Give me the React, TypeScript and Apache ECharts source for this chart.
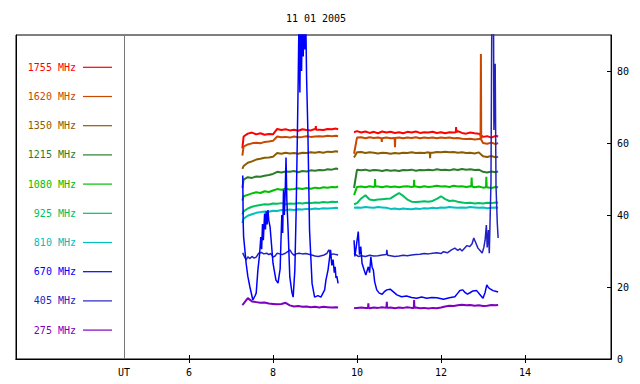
import React, { useEffect, useRef } from 'react';
import * as echarts from 'echarts';

const TITLE = '11 01 2005';
const X_TICKS = [6, 8, 10, 12, 14];
const UT_X = 4.45;
const Y_TICKS = [0, 20, 40, 60, 80];

const FREQ_LABELS = ['1755 MHz', '1620 MHz', '1350 MHz', '1215 MHz', '1080 MHz', '925 MHz', '810 MHz', '670 MHz', '405 MHz', '275 MHz'];
const COLORS = ['#ff0000', '#c84800', '#8c5c00', '#2a7d2a', '#00c000', '#00c060', '#00c0c0', '#0000ff', '#2222c4', '#8000c0'];

// time grid (UT hours) for the smoother channels
const T_A = [7.27, 7.3, 7.4, 7.5, 7.6, 7.7, 7.8, 7.9, 8.0, 8.1, 8.2, 8.3, 8.4, 8.5, 8.6, 8.7, 8.8, 8.9, 9.0, 9.1, 9.2, 9.3, 9.4, 9.5, 9.55];
const T_GAP = 9.75;
const T_B = [9.93, 10.0, 10.1, 10.2, 10.3, 10.4, 10.5, 10.6, 10.7, 10.8, 10.9, 11.0, 11.1, 11.2, 11.3, 11.4, 11.5, 11.6, 11.7, 11.8, 11.9, 12.0, 12.1, 12.2, 12.3, 12.4, 12.5, 12.6, 12.7, 12.8, 12.9, 13.0, 13.1, 13.2, 13.3, 13.36];

const F1755_A = [58.5, 61.8, 62.6, 62.9, 62.4, 62.7, 62.3, 62.5, 62.4, 63.9, 63.6, 63.8, 63.5, 63.7, 63.4, 63.8, 63.6, 63.5, 63.9, 63.7, 63.6, 63.9, 63.8, 64.0, 63.8];
const F1755_B = [63.0, 63.3, 62.9, 63.2, 62.8, 63.1, 62.7, 63.2, 62.9, 63.1, 62.8, 63.0, 62.7, 63.1, 62.9, 63.2, 62.8, 63.0, 62.9, 63.1, 62.8, 63.0, 62.7, 63.0, 62.9, 63.3, 62.8, 62.6, 62.9, 62.7, 62.6, 61.7, 61.9, 61.5, 62.0, 61.8];
const F1755_SPK = [[9.012, 63.7], [9.02, 64.7], [9.028, 63.7], [12.352, 63.0], [12.36, 64.4], [12.368, 63.0]];

const F1620_A = [56.5, 59.0, 59.6, 59.9, 60.1, 59.9, 60.3, 60.4, 60.6, 61.8, 61.6, 61.7, 61.5, 61.8, 61.6, 61.7, 61.9, 61.7, 61.8, 61.9, 61.8, 62.0, 61.9, 62.0, 61.9];
const F1620_B = [57.0, 61.5, 61.6, 61.3, 61.6, 61.4, 61.5, 61.2, 61.5, 61.3, 61.4, 61.5, 61.3, 61.5, 61.4, 61.6, 61.3, 61.5, 61.4, 61.5, 61.3, 61.5, 61.4, 61.5, 61.3, 61.4, 61.2, 61.1, 61.2, 61.0, 61.1, 60.0, 59.8, 60.1, 59.7, 60.0];
const F1620_SPK = [[10.582, 61.3], [10.59, 60.3], [10.598, 61.3], [10.897, 61.4], [10.905, 58.8], [10.913, 61.4], [12.942, 61.1], [12.95, 84.7], [12.958, 60.9]];

const F1350_A = [52.8, 53.6, 54.5, 54.9, 55.4, 55.6, 55.9, 56.0, 56.2, 57.2, 57.0, 57.3, 57.1, 57.2, 57.0, 57.3, 57.2, 57.4, 57.3, 57.5, 57.3, 57.6, 57.5, 57.7, 57.6];
const F1350_B = [56.0, 57.4, 57.5, 57.2, 57.4, 57.3, 57.1, 57.3, 57.2, 57.0, 57.2, 57.1, 57.3, 57.2, 57.4, 57.2, 57.3, 57.2, 57.4, 57.3, 57.5, 57.4, 57.6, 57.4, 57.5, 57.3, 57.4, 57.2, 57.3, 57.1, 57.4, 56.3, 56.1, 56.4, 56.0, 56.2];
const F1350_SPK = [[11.732, 57.3], [11.74, 55.8], [11.748, 57.3]];

const F1215_A = [47.5, 49.8, 50.5, 50.3, 50.7, 50.6, 50.9, 51.1, 51.4, 52.0, 51.8, 52.1, 52.0, 52.2, 51.9, 52.2, 52.1, 52.4, 52.3, 52.5, 52.4, 52.7, 52.6, 52.9, 52.8];
const F1215_B = [47.5, 52.6, 52.4, 52.6, 52.3, 52.5, 52.4, 52.2, 52.5, 52.3, 52.4, 52.2, 52.5, 52.4, 52.6, 52.3, 52.5, 52.4, 52.6, 52.4, 52.7, 52.5, 52.6, 52.4, 52.7, 52.5, 52.8, 52.6, 52.7, 52.5, 52.6, 52.0, 51.8, 52.1, 51.9, 52.1];

const F1080_A = [44.0, 45.2, 45.6, 46.0, 46.3, 46.1, 46.6, 46.4, 46.8, 47.2, 47.0, 47.3, 47.1, 47.2, 47.4, 47.2, 47.5, 47.3, 47.6, 47.4, 47.7, 47.6, 47.8, 47.7, 47.9];
const F1080_B = [45.5, 47.8, 47.9, 47.7, 48.0, 47.8, 47.9, 47.7, 48.0, 47.8, 47.9, 47.7, 47.9, 48.0, 47.8, 47.9, 47.7, 48.0, 47.8, 47.9, 48.1, 47.9, 48.0, 47.8, 48.1, 47.9, 48.0, 47.8, 48.0, 47.7, 47.9, 47.6, 47.8, 47.5, 47.8, 47.7];
const F1080_SPK = [[10.422, 47.9], [10.43, 50.0], [10.438, 47.9], [11.352, 47.9], [11.36, 49.8], [11.368, 47.9], [12.722, 47.9], [12.73, 50.4], [12.738, 47.9], [13.072, 47.7], [13.08, 50.6], [13.088, 47.7]];

const F925_A = [40.2, 41.0, 41.8, 42.3, 42.6, 42.8, 43.0, 42.9, 43.2, 43.1, 43.3, 43.0, 43.2, 43.1, 43.3, 43.2, 43.4, 43.3, 43.5, 43.4, 43.6, 43.5, 43.7, 43.6, 43.7];
const F925_B = [43.0, 43.3, 44.6, 45.5, 44.3, 44.1, 44.3, 44.4, 44.5, 44.6, 45.4, 46.1, 45.3, 44.3, 43.7, 43.6, 43.7, 43.8, 43.7, 43.9, 44.5, 45.2, 44.4, 43.9, 44.0, 43.7, 43.5, 43.3, 43.4, 43.2, 43.3, 43.2, 43.4, 43.3, 43.5, 43.4];

const F810_A = [37.8, 39.0, 39.8, 40.2, 40.6, 40.8, 41.0, 40.9, 41.2, 41.1, 41.4, 41.3, 41.5, 41.4, 41.6, 41.5, 41.7, 41.6, 41.8, 41.7, 41.9, 41.8, 41.9, 42.0, 41.9];
const F810_B = [42.0, 42.1, 42.0, 42.2, 42.1, 42.0, 42.2, 42.1, 42.0, 41.7, 41.8, 41.6, 41.8, 41.7, 41.6, 41.8, 41.7, 41.9, 41.8, 42.0, 41.9, 42.1, 42.0, 42.2, 42.1, 42.0, 42.1, 42.0, 42.2, 42.1, 42.0, 42.1, 41.9, 42.0, 42.1, 42.0];

const F275_A = [15.0, 15.4, 16.9, 16.0, 15.8, 15.6, 15.7, 15.4, 15.3, 15.2, 15.3, 15.6, 14.9, 14.6, 14.7, 14.5, 14.6, 14.4, 14.5, 14.3, 14.5, 14.4, 14.3, 14.4, 14.3];
const F275_B = [14.1, 14.2, 14.3, 14.2, 14.1, 14.3, 14.2, 14.4, 14.2, 14.3, 14.1, 14.3, 14.2, 14.4, 14.2, 14.3, 14.1, 14.2, 14.0, 14.2, 14.1, 14.3, 14.6, 14.8, 14.7, 14.9, 15.1, 14.9, 15.0, 14.8, 14.9, 14.7, 14.8, 15.0, 14.9, 15.0];
const F275_SPK = [[10.262, 14.2], [10.27, 15.5], [10.278, 14.2], [10.702, 14.2], [10.71, 15.9], [10.718, 14.2], [11.352, 14.2], [11.36, 16.4], [11.368, 14.2]];

// bursty channels: [UT hour, flux]
const F670_A = [[7.28, 51.0], [7.29, 38.0], [7.30, 34.0], [7.36, 26.6], [7.40, 23.0], [7.45, 20.0], [7.52, 16.4], [7.57, 17.5], [7.60, 18.3], [7.64, 24.7], [7.68, 29.0], [7.71, 33.9], [7.73, 30.5], [7.75, 37.5], [7.77, 33.0], [7.80, 40.4], [7.82, 36.0], [7.84, 41.0], [7.86, 37.4], [7.88, 41.4], [7.90, 38.5], [7.93, 36.7], [7.95, 33.9], [8.00, 26.6], [8.07, 21.9], [8.12, 21.1], [8.15, 23.5], [8.17, 25.0], [8.19, 33.0], [8.21, 40.0], [8.23, 35.0], [8.25, 47.0], [8.27, 40.0], [8.29, 46.0], [8.31, 56.0], [8.33, 44.0], [8.36, 35.8], [8.40, 22.8], [8.45, 18.5], [8.48, 17.2], [8.52, 24.7], [8.55, 40.5], [8.58, 62.0], [8.60, 77.5], [8.62, 96], [8.64, 74], [8.66, 98], [8.68, 80], [8.70, 99], [8.72, 84], [8.74, 99], [8.76, 86], [8.78, 95], [8.80, 78.0], [8.83, 63.6], [8.87, 35.8], [8.93, 21.0], [8.99, 17.2], [9.07, 17.6], [9.14, 17.2], [9.23, 19.2], [9.26, 21.9], [9.31, 24.7], [9.34, 27.5], [9.37, 30.3], [9.40, 26.0], [9.43, 27.6], [9.46, 24.0], [9.48, 25.6], [9.50, 22.5], [9.52, 23.0], [9.55, 21.0]];
const F670_B = [[9.93, 33.0], [9.95, 28.5], [9.98, 31.0], [10.03, 35.4], [10.06, 29.0], [10.09, 31.2], [10.12, 26.6], [10.17, 24.7], [10.21, 23.3], [10.24, 24.5], [10.27, 25.6], [10.30, 24.0], [10.33, 28.4], [10.36, 25.5], [10.39, 24.7], [10.42, 21.5], [10.47, 19.2], [10.53, 18.3], [10.60, 18.0], [10.66, 18.8], [10.71, 19.2], [10.79, 19.4], [10.86, 18.7], [10.95, 17.8], [11.06, 17.3], [11.18, 17.5], [11.30, 17.1], [11.42, 16.9], [11.54, 17.2], [11.66, 16.9], [11.78, 17.1], [11.90, 17.0], [12.06, 16.6], [12.20, 17.0], [12.33, 17.3], [12.40, 18.3], [12.45, 19.0], [12.52, 19.2], [12.57, 18.5], [12.63, 18.0], [12.69, 18.4], [12.76, 18.9], [12.85, 19.0], [12.92, 18.0], [13.00, 16.9], [13.05, 18.5], [13.09, 20.6], [13.13, 19.8], [13.17, 19.5], [13.24, 19.0], [13.30, 18.8], [13.36, 18.6]];

const F405_A = [[7.28, 29.5], [7.30, 28.9], [7.36, 27.5], [7.40, 28.4], [7.45, 27.9], [7.50, 28.5], [7.55, 28.0], [7.60, 28.3], [7.66, 29.4], [7.72, 29.6], [7.78, 29.2], [7.85, 29.4], [7.90, 29.0], [7.95, 29.3], [8.00, 28.3], [8.05, 28.6], [8.10, 29.4], [8.16, 29.2], [8.22, 29.0], [8.28, 29.3], [8.35, 29.8], [8.40, 30.3], [8.45, 29.4], [8.50, 28.8], [8.55, 29.2], [8.62, 29.4], [8.70, 29.2], [8.78, 29.3], [8.85, 29.1], [8.92, 28.9], [9.00, 28.6], [9.08, 28.5], [9.15, 28.7], [9.22, 28.9], [9.28, 29.3], [9.33, 30.3], [9.38, 29.0], [9.44, 29.2], [9.50, 29.0], [9.55, 28.9]];
const F405_B = [[9.93, 29.4], [9.98, 28.9], [10.03, 28.5], [10.10, 28.7], [10.20, 28.5], [10.30, 28.8], [10.40, 28.6], [10.50, 28.7], [10.60, 28.9], [10.70, 29.0], [10.71, 30.3], [10.73, 28.8], [10.80, 28.7], [10.90, 28.5], [11.00, 28.6], [11.10, 28.8], [11.20, 28.7], [11.30, 28.9], [11.40, 29.0], [11.50, 29.1], [11.60, 29.3], [11.70, 29.2], [11.80, 29.4], [11.90, 29.5], [12.00, 29.3], [12.06, 29.8], [12.15, 29.5], [12.25, 30.3], [12.33, 30.8], [12.40, 30.2], [12.45, 30.6], [12.50, 30.0], [12.57, 30.9], [12.62, 31.5], [12.68, 31.2], [12.74, 32.0], [12.78, 33.6], [12.82, 32.5], [12.88, 30.8], [12.94, 30.0], [12.98, 29.4], [13.02, 31.0], [13.05, 33.0], [13.08, 37.2], [13.10, 31.0], [13.13, 35.8], [13.15, 29.4], [13.19, 49.0], [13.21, 95], [13.23, 92], [13.25, 96], [13.26, 63.6], [13.29, 82.0], [13.31, 48.0], [13.34, 37.8], [13.36, 33.6]];

const FONT = 'DejaVu Sans Mono';

function gridSeries(a: number[], b: number[], spikes: number[][] = []) {
  const pts: any[] = [
    ...T_A.map((t, i) => [t, a[i]]),
    [T_GAP, '-'],
    ...T_B.map((t, i) => [t, b[i]]),
    ...spikes,
  ];
  return pts.sort((p, q) => p[0] - q[0]);
}

function pairSeries(a: number[][], b: number[][]) {
  return [...a, [T_GAP, '-'], ...b];
}

export default function App() {
  const ref = useRef<HTMLDivElement>(null);

  useEffect(() => {
    if (!ref.current) return;
    const chart = echarts.init(ref.current, null, { renderer: 'svg' });

    const datasets: any[] = [
      gridSeries(F1755_A, F1755_B, F1755_SPK),
      gridSeries(F1620_A, F1620_B, F1620_SPK),
      gridSeries(F1350_A, F1350_B, F1350_SPK),
      gridSeries(F1215_A, F1215_B),
      gridSeries(F1080_A, F1080_B, F1080_SPK),
      gridSeries(F925_A, F925_B),
      gridSeries(F810_A, F810_B),
      pairSeries(F670_A, F670_B),
      pairSeries(F405_A, F405_B),
      gridSeries(F275_A, F275_B, F275_SPK),
    ];

    const series: any[] = datasets.map((d, i) => ({
      type: 'line',
      name: FREQ_LABELS[i],
      data: d,
      xAxisIndex: 0,
      yAxisIndex: 0,
      symbol: 'none',
      showSymbol: false,
      connectNulls: false,
      clip: true,
      lineStyle: { color: COLORS[i], width: i === 7 || i === 8 ? 1.5 : 2 },
      itemStyle: { color: COLORS[i] },
      z: i === 7 ? 5 : 3,
      ...(i === 0
        ? {
            markLine: {
              silent: true,
              symbol: ['none', 'none'],
              label: { show: false },
              lineStyle: { color: '#777777', type: 'solid', width: 1 },
              data: [{ xAxis: UT_X }],
            },
          }
        : {}),
    }));

    const X_MIN = 6 - 173 / 42;
    const X_MAX = X_MIN + 595 / 42;

    const legendEls: any[] = [];
    FREQ_LABELS.forEach((lab, i) => {
      const y = 67.3 + 29.2 * i;
      legendEls.push({
        type: 'text',
        x: 76,
        y,
        style: { text: lab, fill: COLORS[i], font: `10px "${FONT}"`, textAlign: 'right', textVerticalAlign: 'middle' },
      });
      legendEls.push({
        type: 'line',
        shape: { x1: 83, y1: y, x2: 112, y2: y },
        style: { stroke: COLORS[i], lineWidth: 1.2 },
      });
    });

    chart.setOption({
      animation: false,
      backgroundColor: '#ffffff',
      grid: { left: 16, right: 29, top: 35, bottom: 25, show: true, borderColor: '#000', borderWidth: 1, backgroundColor: 'transparent' },
      xAxis: [
        {
          type: 'value',
          position: 'bottom',
          min: X_MIN,
          max: X_MAX,
          axisLine: { show: true, lineStyle: { color: '#000', width: 1 } },
          axisTick: { show: true, inside: true, length: 4, customValues: X_TICKS, lineStyle: { color: '#000' } },
          axisLabel: {
            show: true,
            customValues: [UT_X, ...X_TICKS],
            formatter: (v: number) => (v < 5 ? 'UT' : String(Math.round(v))),
            color: '#000',
            fontFamily: FONT,
            fontSize: 10,
            margin: 8,
          },
          splitLine: { show: false },
        },
        {
          type: 'value',
          position: 'top',
          min: X_MIN,
          max: X_MAX,
          axisLine: { show: true, lineStyle: { color: '#000', width: 1 } },
          axisTick: { show: true, inside: true, length: 4, customValues: X_TICKS, lineStyle: { color: '#000' } },
          axisLabel: { show: false },
          splitLine: { show: false },
        },
      ],
      yAxis: [
        {
          type: 'value',
          position: 'right',
          min: 0,
          max: 90,
          axisLine: { show: true, lineStyle: { color: '#000', width: 1 } },
          axisTick: { show: true, inside: true, length: 4, customValues: [20, 40, 60, 80], lineStyle: { color: '#000' } },
          axisLabel: { show: true, customValues: Y_TICKS, color: '#000', fontFamily: FONT, fontSize: 10, margin: 6 },
          splitLine: { show: false },
        },
        {
          type: 'value',
          position: 'left',
          min: 0,
          max: 90,
          axisLine: { show: true, lineStyle: { color: '#000', width: 1 } },
          axisTick: { show: false },
          axisLabel: { show: false },
          splitLine: { show: false },
        },
      ],
      graphic: [
        {
          type: 'text',
          x: 316,
          y: 18,
          style: { text: TITLE, fill: '#000', font: `10px "${FONT}"`, textAlign: 'center', textVerticalAlign: 'middle' },
        },
        ...legendEls,
      ],
      series,
    });

    return () => chart.dispose();
  }, []);

  return <div ref={ref} style={{ position: 'fixed', left: 0, top: 0, width: 640, height: 384, background: '#fff' }} />;
}
